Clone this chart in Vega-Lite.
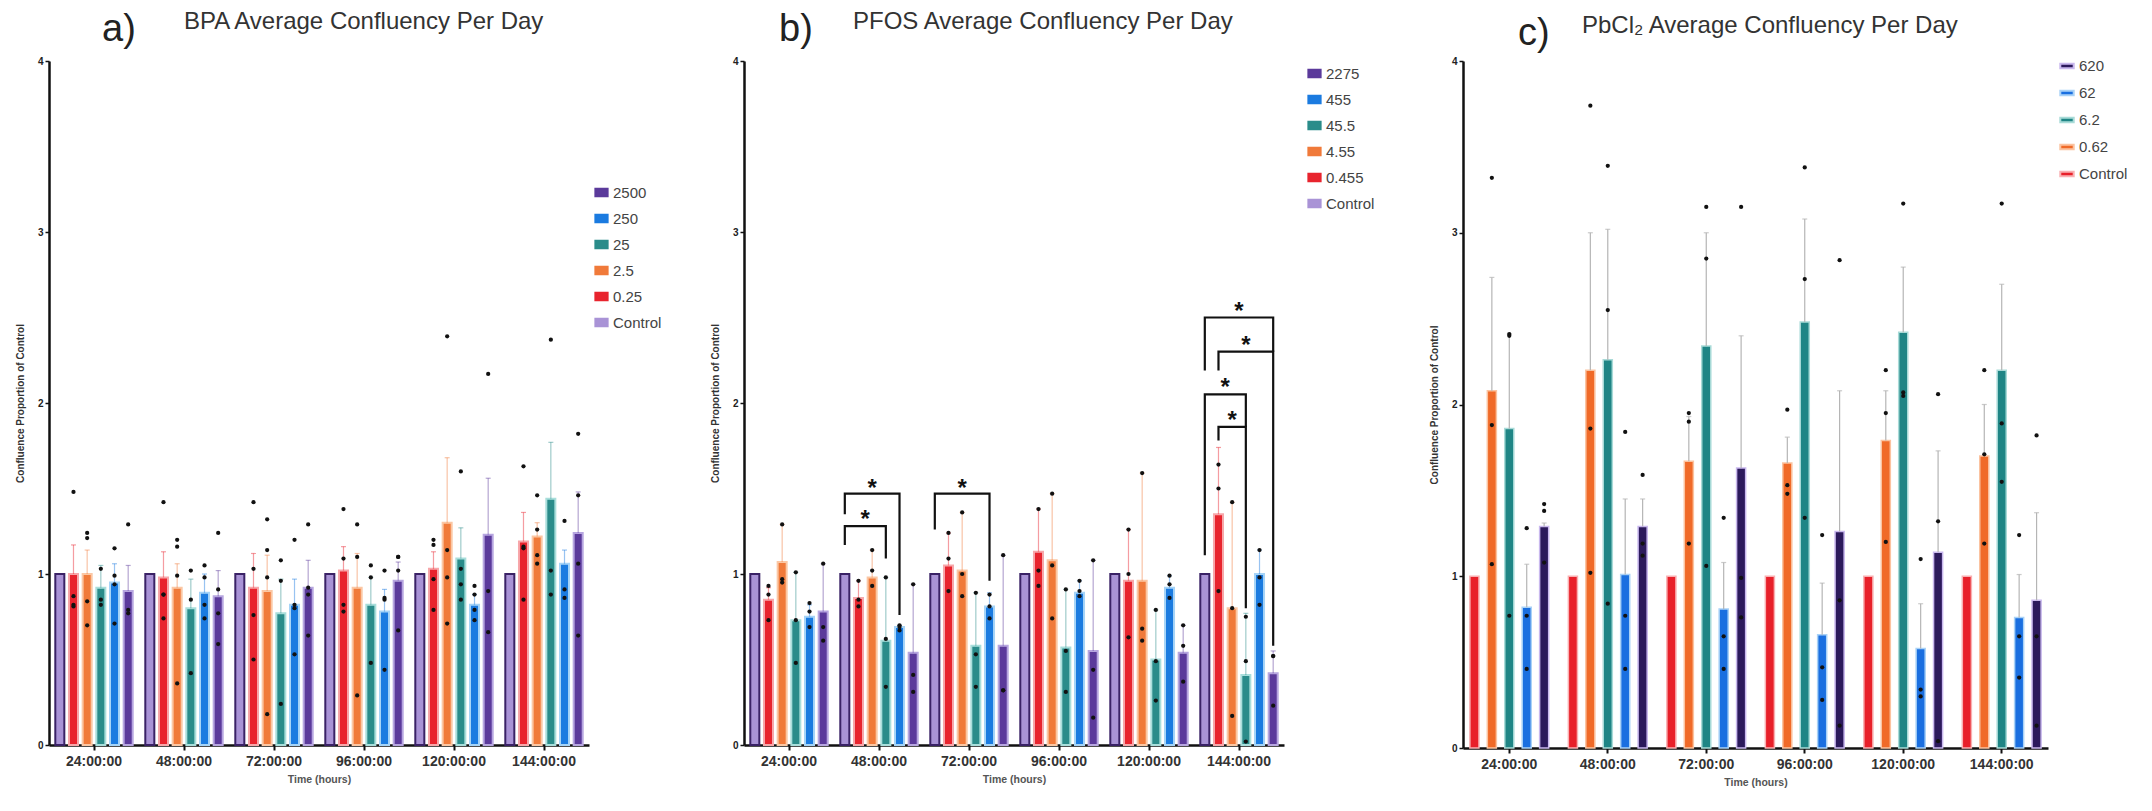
{
  "$schema": "https://vega.github.io/schema/vega-lite/v6.json",
  "padding": {"left": 15, "top": 10, "right": 4, "bottom": 4},
  "background": "white",
  "config": {
    "font": "Liberation Sans",
    "view": {"stroke": null},
    "axisX": {"labelFontSize": 14, "labelFontWeight": "bold", "labelColor": "#333", "labelAngle": 0, "tickSize": 5, "tickWidth": 2, "tickColor": "#111", "domainWidth": 2.5, "domainColor": "#111", "titleFontSize": 10.5, "titleFontWeight": "bold", "titleColor": "#555", "titlePadding": 6, "labelPadding": 4, "grid": false},
    "axisY": {"labelFontSize": 10, "labelFontWeight": "bold", "labelColor": "#222", "tickSize": 4, "tickWidth": 1.5, "tickColor": "#111", "domainWidth": 2.5, "domainColor": "#111", "titleFontSize": 10, "titleFontWeight": "bold", "titleColor": "#333", "titlePadding": 12, "grid": false},
    "legend": {"orient": "none", "title": null, "labelFontSize": 15, "labelColor": "#444", "labelFont": "Liberation Sans", "rowPadding": 9, "symbolSize": 150, "symbolStrokeWidth": 2, "symbolType": "M-1,-0.6H1V0.6H-1Z"}
  },
  "datasets": {
    "a": [
      {"t": "24:00:00", "c": "Control", "m": 1.0, "e": null, "v": []},
      {"t": "24:00:00", "c": "0.25", "m": 1.0, "e": 1.17, "v": [1.48, 0.87, 0.82, 0.81]},
      {"t": "24:00:00", "c": "2.5", "m": 1.0, "e": 1.14, "v": [1.24, 1.21, 0.84, 0.70]},
      {"t": "24:00:00", "c": "25", "m": 0.92, "e": 1.05, "v": [1.03, 0.85, 0.82]},
      {"t": "24:00:00", "c": "250", "m": 0.95, "e": 1.06, "v": [1.15, 0.99, 0.94, 0.71]},
      {"t": "24:00:00", "c": "2500", "m": 0.90, "e": 1.05, "v": [1.29, 0.79, 0.77]},
      {"t": "48:00:00", "c": "Control", "m": 1.0, "e": null, "v": []},
      {"t": "48:00:00", "c": "0.25", "m": 0.98, "e": 1.13, "v": [1.42, 0.88, 0.88, 0.74]},
      {"t": "48:00:00", "c": "2.5", "m": 0.92, "e": 1.06, "v": [1.20, 1.16, 0.99, 0.36]},
      {"t": "48:00:00", "c": "25", "m": 0.80, "e": 0.97, "v": [1.02, 0.85, 0.42]},
      {"t": "48:00:00", "c": "250", "m": 0.89, "e": 1.0, "v": [1.05, 0.98, 0.82, 0.74]},
      {"t": "48:00:00", "c": "2500", "m": 0.87, "e": 1.02, "v": [1.24, 0.91, 0.77, 0.59]},
      {"t": "72:00:00", "c": "Control", "m": 1.0, "e": null, "v": []},
      {"t": "72:00:00", "c": "0.25", "m": 0.92, "e": 1.12, "v": [1.42, 1.03, 0.76, 0.50]},
      {"t": "72:00:00", "c": "2.5", "m": 0.90, "e": 1.11, "v": [1.32, 1.14, 0.98, 0.18]},
      {"t": "72:00:00", "c": "25", "m": 0.77, "e": 0.97, "v": [1.08, 0.96, 0.24]},
      {"t": "72:00:00", "c": "250", "m": 0.82, "e": 0.97, "v": [1.20, 0.82, 0.80, 0.53]},
      {"t": "72:00:00", "c": "2500", "m": 0.92, "e": 1.08, "v": [1.29, 0.92, 0.88, 0.64]},
      {"t": "96:00:00", "c": "Control", "m": 1.0, "e": null, "v": []},
      {"t": "96:00:00", "c": "0.25", "m": 1.02, "e": 1.16, "v": [1.38, 1.09, 0.82, 0.78]},
      {"t": "96:00:00", "c": "2.5", "m": 0.92, "e": 1.12, "v": [1.29, 1.10, 0.29]},
      {"t": "96:00:00", "c": "25", "m": 0.82, "e": 0.98, "v": [1.05, 0.98, 0.48]},
      {"t": "96:00:00", "c": "250", "m": 0.78, "e": 0.91, "v": [1.02, 0.86, 0.85, 0.44]},
      {"t": "96:00:00", "c": "2500", "m": 0.96, "e": 1.07, "v": [1.10, 1.10, 1.02, 0.67]},
      {"t": "120:00:00", "c": "Control", "m": 1.0, "e": null, "v": []},
      {"t": "120:00:00", "c": "0.25", "m": 1.03, "e": 1.13, "v": [1.20, 1.17, 0.97, 0.79]},
      {"t": "120:00:00", "c": "2.5", "m": 1.30, "e": 1.68, "v": [2.39, 1.14, 0.98, 0.71]},
      {"t": "120:00:00", "c": "25", "m": 1.09, "e": 1.27, "v": [1.60, 1.03, 0.94, 0.85]},
      {"t": "120:00:00", "c": "250", "m": 0.82, "e": 0.88, "v": [0.93, 0.88, 0.79, 0.73]},
      {"t": "120:00:00", "c": "2500", "m": 1.23, "e": 1.56, "v": [2.17, 0.90, 0.66]},
      {"t": "144:00:00", "c": "Control", "m": 1.0, "e": null, "v": []},
      {"t": "144:00:00", "c": "0.25", "m": 1.19, "e": 1.36, "v": [1.63, 1.16, 1.15, 0.85]},
      {"t": "144:00:00", "c": "2.5", "m": 1.22, "e": 1.30, "v": [1.46, 1.26, 1.11, 1.06]},
      {"t": "144:00:00", "c": "25", "m": 1.44, "e": 1.77, "v": [2.37, 1.02, 0.88]},
      {"t": "144:00:00", "c": "250", "m": 1.06, "e": 1.14, "v": [1.31, 0.91, 0.86]},
      {"t": "144:00:00", "c": "2500", "m": 1.24, "e": 1.48, "v": [1.82, 1.46, 1.06, 0.64]}
    ],
    "b": [
      {"t": "24:00:00", "c": "Control", "m": 1.0, "e": null, "v": []},
      {"t": "24:00:00", "c": "0.455", "m": 0.85, "e": 0.92, "v": [0.93, 0.88, 0.73]},
      {"t": "24:00:00", "c": "4.55", "m": 1.07, "e": 1.29, "v": [1.29, 0.97, 0.95]},
      {"t": "24:00:00", "c": "45.5", "m": 0.73, "e": 1.01, "v": [1.01, 0.73, 0.48]},
      {"t": "24:00:00", "c": "455", "m": 0.75, "e": 0.82, "v": [0.83, 0.78, 0.69]},
      {"t": "24:00:00", "c": "2275", "m": 0.78, "e": 1.06, "v": [1.06, 0.69, 0.61]},
      {"t": "48:00:00", "c": "Control", "m": 1.0, "e": null, "v": []},
      {"t": "48:00:00", "c": "0.455", "m": 0.86, "e": 0.96, "v": [0.96, 0.85, 0.81]},
      {"t": "48:00:00", "c": "4.55", "m": 0.98, "e": 1.14, "v": [1.14, 1.02, 0.93]},
      {"t": "48:00:00", "c": "45.5", "m": 0.61, "e": 0.98, "v": [0.98, 0.62, 0.34]},
      {"t": "48:00:00", "c": "455", "m": 0.69, "e": 0.70, "v": [0.70, 0.69, 0.67]},
      {"t": "48:00:00", "c": "2275", "m": 0.54, "e": 0.94, "v": [0.94, 0.41, 0.31]},
      {"t": "72:00:00", "c": "Control", "m": 1.0, "e": null, "v": []},
      {"t": "72:00:00", "c": "0.455", "m": 1.05, "e": 1.24, "v": [1.24, 1.09, 0.90]},
      {"t": "72:00:00", "c": "4.55", "m": 1.02, "e": 1.36, "v": [1.36, 1.0, 0.87]},
      {"t": "72:00:00", "c": "45.5", "m": 0.58, "e": 0.89, "v": [0.89, 0.53, 0.34]},
      {"t": "72:00:00", "c": "455", "m": 0.81, "e": 0.89, "v": [0.88, 0.81, 0.74]},
      {"t": "72:00:00", "c": "2275", "m": 0.58, "e": 1.11, "v": [1.11, 0.32, 0.32]},
      {"t": "96:00:00", "c": "Control", "m": 1.0, "e": null, "v": []},
      {"t": "96:00:00", "c": "0.455", "m": 1.13, "e": 1.38, "v": [1.38, 1.02, 0.93]},
      {"t": "96:00:00", "c": "4.55", "m": 1.08, "e": 1.47, "v": [1.47, 1.05, 0.74]},
      {"t": "96:00:00", "c": "45.5", "m": 0.57, "e": 0.91, "v": [0.91, 0.55, 0.31]},
      {"t": "96:00:00", "c": "455", "m": 0.89, "e": 0.96, "v": [0.96, 0.90, 0.87]},
      {"t": "96:00:00", "c": "2275", "m": 0.55, "e": 1.08, "v": [1.08, 0.44, 0.16]},
      {"t": "120:00:00", "c": "Control", "m": 1.0, "e": null, "v": []},
      {"t": "120:00:00", "c": "0.455", "m": 0.96, "e": 1.26, "v": [1.26, 1.0, 0.63]},
      {"t": "120:00:00", "c": "4.55", "m": 0.96, "e": 1.59, "v": [1.59, 0.68, 0.61]},
      {"t": "120:00:00", "c": "45.5", "m": 0.50, "e": 0.79, "v": [0.79, 0.49, 0.26]},
      {"t": "120:00:00", "c": "455", "m": 0.92, "e": 0.99, "v": [0.99, 0.94, 0.86]},
      {"t": "120:00:00", "c": "2275", "m": 0.54, "e": 0.70, "v": [0.70, 0.58, 0.37]},
      {"t": "144:00:00", "c": "Control", "m": 1.0, "e": null, "v": []},
      {"t": "144:00:00", "c": "0.455", "m": 1.35, "e": 1.74, "v": [1.64, 1.50, 0.90]},
      {"t": "144:00:00", "c": "4.55", "m": 0.80, "e": 1.42, "v": [1.42, 0.80, 0.17]},
      {"t": "144:00:00", "c": "45.5", "m": 0.41, "e": 0.77, "v": [0.75, 0.49, 0.02]},
      {"t": "144:00:00", "c": "455", "m": 1.0, "e": 1.14, "v": [1.14, 0.98, 0.82]},
      {"t": "144:00:00", "c": "2275", "m": 0.42, "e": 0.55, "v": [0.52, 0.52, 0.23]}
    ],
    "c": [
      {"t": "24:00:00", "c": "Control", "m": 1.0, "e": null, "v": []},
      {"t": "24:00:00", "c": "0.62", "m": 2.08, "e": 2.74, "v": [3.32, 1.88, 1.07]},
      {"t": "24:00:00", "c": "6.2", "m": 1.86, "e": 2.41, "v": [2.41, 2.40, 0.77]},
      {"t": "24:00:00", "c": "62", "m": 0.82, "e": 1.07, "v": [1.28, 0.77, 0.46]},
      {"t": "24:00:00", "c": "620", "m": 1.29, "e": 1.31, "v": [1.42, 1.38, 1.08]},
      {"t": "48:00:00", "c": "Control", "m": 1.0, "e": null, "v": []},
      {"t": "48:00:00", "c": "0.62", "m": 2.20, "e": 3.0, "v": [3.74, 1.86, 1.02]},
      {"t": "48:00:00", "c": "6.2", "m": 2.26, "e": 3.02, "v": [3.39, 2.55, 0.84]},
      {"t": "48:00:00", "c": "62", "m": 1.01, "e": 1.45, "v": [1.84, 0.77, 0.46]},
      {"t": "48:00:00", "c": "620", "m": 1.29, "e": 1.45, "v": [1.59, 1.19, 1.12]},
      {"t": "72:00:00", "c": "Control", "m": 1.0, "e": null, "v": []},
      {"t": "72:00:00", "c": "0.62", "m": 1.67, "e": 1.93, "v": [1.95, 1.90, 1.19]},
      {"t": "72:00:00", "c": "6.2", "m": 2.34, "e": 3.0, "v": [3.15, 2.85, 1.06]},
      {"t": "72:00:00", "c": "62", "m": 0.81, "e": 1.08, "v": [1.34, 0.65, 0.46]},
      {"t": "72:00:00", "c": "620", "m": 1.63, "e": 2.40, "v": [3.15, 0.99, 0.76]},
      {"t": "96:00:00", "c": "Control", "m": 1.0, "e": null, "v": []},
      {"t": "96:00:00", "c": "0.62", "m": 1.66, "e": 1.81, "v": [1.97, 1.53, 1.48]},
      {"t": "96:00:00", "c": "6.2", "m": 2.48, "e": 3.08, "v": [3.38, 2.73, 1.34]},
      {"t": "96:00:00", "c": "62", "m": 0.66, "e": 0.96, "v": [1.24, 0.47, 0.28]},
      {"t": "96:00:00", "c": "620", "m": 1.26, "e": 2.08, "v": [2.84, 0.86, 0.13]},
      {"t": "120:00:00", "c": "Control", "m": 1.0, "e": null, "v": []},
      {"t": "120:00:00", "c": "0.62", "m": 1.79, "e": 2.08, "v": [2.20, 1.95, 1.20]},
      {"t": "120:00:00", "c": "6.2", "m": 2.42, "e": 2.80, "v": [3.17, 2.07, 2.05]},
      {"t": "120:00:00", "c": "62", "m": 0.58, "e": 0.84, "v": [1.10, 0.34, 0.30]},
      {"t": "120:00:00", "c": "620", "m": 1.14, "e": 1.73, "v": [2.06, 1.32, 0.04]},
      {"t": "144:00:00", "c": "Control", "m": 1.0, "e": null, "v": []},
      {"t": "144:00:00", "c": "0.62", "m": 1.70, "e": 2.0, "v": [2.20, 1.71, 1.19]},
      {"t": "144:00:00", "c": "6.2", "m": 2.20, "e": 2.70, "v": [3.17, 1.89, 1.55]},
      {"t": "144:00:00", "c": "62", "m": 0.76, "e": 1.01, "v": [1.24, 0.65, 0.41]},
      {"t": "144:00:00", "c": "620", "m": 0.86, "e": 1.37, "v": [1.82, 0.65, 0.13]}
    ],
    "sig": [
      {"id": 1, "t": "48:00:00", "o": 1, "c": "Control", "v": 1.17},
      {"id": 1, "t": "48:00:00", "o": 2, "c": "Control", "v": 1.28},
      {"id": 1, "t": "48:00:00", "o": 3, "c": "45.5", "v": 1.28},
      {"id": 1, "t": "48:00:00", "o": 4, "c": "45.5", "v": 1.09},
      {"id": 2, "t": "48:00:00", "o": 1, "c": "Control", "v": 1.35},
      {"id": 2, "t": "48:00:00", "o": 2, "c": "Control", "v": 1.47},
      {"id": 2, "t": "48:00:00", "o": 3, "c": "455", "v": 1.47},
      {"id": 2, "t": "48:00:00", "o": 4, "c": "455", "v": 0.76},
      {"id": 3, "t": "72:00:00", "o": 1, "c": "Control", "v": 1.26},
      {"id": 3, "t": "72:00:00", "o": 2, "c": "Control", "v": 1.47},
      {"id": 3, "t": "72:00:00", "o": 3, "c": "455", "v": 1.47},
      {"id": 3, "t": "72:00:00", "o": 4, "c": "455", "v": 0.96},
      {"id": 4, "t": "144:00:00", "o": 1, "c": "Control", "v": 2.19},
      {"id": 4, "t": "144:00:00", "o": 2, "c": "Control", "v": 2.50},
      {"id": 4, "t": "144:00:00", "o": 3, "c": "2275", "v": 2.50},
      {"id": 4, "t": "144:00:00", "o": 4, "c": "2275", "v": 2.30},
      {"id": 5, "t": "144:00:00", "o": 1, "c": "0.455", "v": 2.19},
      {"id": 5, "t": "144:00:00", "o": 2, "c": "0.455", "v": 2.30},
      {"id": 5, "t": "144:00:00", "o": 3, "c": "2275", "v": 2.30},
      {"id": 5, "t": "144:00:00", "o": 4, "c": "2275", "v": 0.58},
      {"id": 6, "t": "144:00:00", "o": 1, "c": "Control", "v": 1.11},
      {"id": 6, "t": "144:00:00", "o": 2, "c": "Control", "v": 2.05},
      {"id": 6, "t": "144:00:00", "o": 3, "c": "45.5", "v": 2.05},
      {"id": 6, "t": "144:00:00", "o": 4, "c": "45.5", "v": 1.86},
      {"id": 7, "t": "144:00:00", "o": 1, "c": "0.455", "v": 1.78},
      {"id": 7, "t": "144:00:00", "o": 2, "c": "0.455", "v": 1.86},
      {"id": 7, "t": "144:00:00", "o": 3, "c": "45.5", "v": 1.86},
      {"id": 7, "t": "144:00:00", "o": 4, "c": "45.5", "v": 0.80}
    ],
    "stars": [
      {"t": "48:00:00", "c": "4.55", "v": 1.35, "h": 1},
      {"t": "48:00:00", "c": "4.55", "v": 1.53, "h": 0},
      {"t": "72:00:00", "c": "4.55", "v": 1.53, "h": 0},
      {"t": "144:00:00", "c": "45.5", "v": 2.57, "h": 1},
      {"t": "144:00:00", "c": "45.5", "v": 2.37, "h": 0},
      {"t": "144:00:00", "c": "4.55", "v": 2.12, "h": 1},
      {"t": "144:00:00", "c": "4.55", "v": 1.93, "h": 0}
    ]
  },
  "resolve": {"scale": {"x": "independent", "y": "independent", "xOffset": "independent", "color": "independent", "stroke": "independent"}, "axis": {"x": "independent", "y": "independent"}, "legend": {"color": "independent", "stroke": "independent"}},
  "spacing": 48,
  "hconcat": [
    {
      "title": {"text": "a)", "anchor": "start", "frame": "group", "fontSize": 38, "fontWeight": "normal", "color": "#222", "dx": 53, "dy": 43},
      "vconcat": [
        {
          "width": 540, "height": 684,
          "title": {"text": "BPA Average Confluency Per Day", "anchor": "start", "frame": "group", "dx": 135, "fontSize": 24, "fontWeight": "normal", "color": "#333", "offset": 22},
          "data": {"name": "a"},
          "encoding": {
            "x": {"field": "t", "type": "nominal", "sort": null, "scale": {"paddingInner": 0.14, "paddingOuter": 0.07}, "title": "Time (hours)"},
            "xOffset": {"field": "c", "type": "nominal", "scale": {"domain": ["Control", "0.25", "2.5", "25", "250", "2500"], "paddingInner": 0.34}}
          },
          "layer": [
            {
              "mark": {"type": "bar", "strokeWidth": 2},
              "encoding": {
                "y": {"field": "m", "type": "quantitative", "scale": {"domain": [0, 4]}, "title": "Confluence Proportion of Control", "axis": {"values": [0, 1, 2, 3, 4], "format": "d"}},
                "color": {"field": "c", "type": "nominal", "scale": {"domain": ["2500", "250", "25", "2.5", "0.25", "Control"], "range": ["#5b3a9b", "#1b7be0", "#2a8c8a", "#f07a3a", "#e8242e", "#a993d6"]}, "legend": {"legendX": 545, "legendY": 124}},
                "stroke": {"field": "c", "type": "nominal", "scale": {"domain": ["2500", "250", "25", "2.5", "0.25", "Control"], "range": ["#b7a6e0", "#a6d4f7", "#a9dedb", "#fbc7a4", "#f7a7aa", "#3a2266"]}, "legend": {"legendX": 545, "legendY": 124}}
              }
            },
            {
              "transform": [{"filter": "isValid(datum.e)"}],
              "mark": {"type": "rule", "strokeWidth": 1.2, "opacity": 0.45},
              "encoding": {
                "y": {"field": "m", "type": "quantitative", "title": "Confluence Proportion of Control"},
                "y2": {"field": "e"},
                "color": {"field": "c", "type": "nominal", "legend": null}
              }
            },
            {
              "transform": [{"filter": "isValid(datum.e)"}],
              "mark": {"type": "tick", "orient": "horizontal", "size": 5, "thickness": 1.2, "opacity": 0.45},
              "encoding": {
                "y": {"field": "e", "type": "quantitative", "title": "Confluence Proportion of Control"},
                "color": {"field": "c", "type": "nominal", "legend": null}
              }
            },
            {
              "transform": [{"flatten": ["v"]}],
              "mark": {"type": "circle", "size": 18, "color": "#111", "opacity": 1},
              "encoding": {
                "y": {"field": "v", "type": "quantitative", "title": "Confluence Proportion of Control"}
              }
            }
          ]
        }
      ]
    },
    {
      "spacing": 54,
      "resolve": {"scale": {"x": "independent", "y": "independent", "xOffset": "independent", "color": "independent", "stroke": "independent"}, "axis": {"x": "independent", "y": "independent"}, "legend": {"color": "independent", "stroke": "independent"}},
      "hconcat": [
        {
          "title": {"text": "b)", "anchor": "start", "frame": "group", "fontSize": 38, "fontWeight": "normal", "color": "#222", "dx": 35, "dy": 43},
          "vconcat": [
            {
              "width": 540, "height": 684,
              "title": {"text": "PFOS Average Confluency Per Day", "anchor": "start", "frame": "group", "dx": 109, "fontSize": 24, "fontWeight": "normal", "color": "#333", "offset": 22},
              "encoding": {
                "x": {"field": "t", "type": "nominal", "sort": ["24:00:00", "48:00:00", "72:00:00", "96:00:00", "120:00:00", "144:00:00"], "scale": {"paddingInner": 0.14, "paddingOuter": 0.07}, "title": "Time (hours)"},
                "xOffset": {"field": "c", "type": "nominal", "scale": {"domain": ["Control", "0.455", "4.55", "45.5", "455", "2275"], "paddingInner": 0.34}}
              },
              "layer": [
                {
                  "data": {"name": "b"},
                  "mark": {"type": "bar", "strokeWidth": 2},
                  "encoding": {
                    "y": {"field": "m", "type": "quantitative", "scale": {"domain": [0, 4]}, "title": "Confluence Proportion of Control", "axis": {"values": [0, 1, 2, 3, 4], "format": "d"}},
                    "color": {"field": "c", "type": "nominal", "scale": {"domain": ["2275", "455", "45.5", "4.55", "0.455", "Control"], "range": ["#5b3a9b", "#1b7be0", "#2a8c8a", "#f07a3a", "#e8242e", "#a993d6"]}, "legend": {"legendX": 563, "legendY": 5}},
                    "stroke": {"field": "c", "type": "nominal", "scale": {"domain": ["2275", "455", "45.5", "4.55", "0.455", "Control"], "range": ["#b7a6e0", "#a6d4f7", "#a9dedb", "#fbc7a4", "#f7a7aa", "#3a2266"]}, "legend": {"legendX": 563, "legendY": 5}}
                  }
                },
                {
                  "data": {"name": "b"},
                  "transform": [{"filter": "isValid(datum.e)"}],
                  "mark": {"type": "rule", "strokeWidth": 1.2, "opacity": 0.45},
                  "encoding": {
                    "y": {"field": "m", "type": "quantitative", "title": "Confluence Proportion of Control"},
                    "y2": {"field": "e"},
                    "color": {"field": "c", "type": "nominal", "legend": null}
                  }
                },
                {
                  "data": {"name": "b"},
                  "transform": [{"filter": "isValid(datum.e)"}],
                  "mark": {"type": "tick", "orient": "horizontal", "size": 5, "thickness": 1.2, "opacity": 0.45},
                  "encoding": {
                    "y": {"field": "e", "type": "quantitative", "title": "Confluence Proportion of Control"},
                    "color": {"field": "c", "type": "nominal", "legend": null}
                  }
                },
                {
                  "data": {"name": "b"},
                  "transform": [{"flatten": ["v"]}],
                  "mark": {"type": "circle", "size": 18, "color": "#111", "opacity": 1},
                  "encoding": {
                    "y": {"field": "v", "type": "quantitative", "title": "Confluence Proportion of Control"}
                  }
                },
                {
                  "data": {"name": "sig"},
                  "mark": {"type": "line", "color": "#111", "strokeWidth": 2.2, "interpolate": "linear"},
                  "encoding": {
                    "y": {"field": "v", "type": "quantitative", "title": "Confluence Proportion of Control"},
                    "detail": {"field": "id", "type": "nominal"},
                    "order": {"field": "o", "type": "quantitative"}
                  }
                },
                {
                  "data": {"name": "stars"},
                  "transform": [{"filter": "datum.h == 0"}],
                  "mark": {"type": "text", "text": "*", "fontSize": 24, "fontWeight": "bold", "color": "#111", "baseline": "middle", "dy": 6},
                  "encoding": {
                    "y": {"field": "v", "type": "quantitative", "title": "Confluence Proportion of Control"}
                  }
                },
                {
                  "data": {"name": "stars"},
                  "transform": [{"filter": "datum.h == 1"}],
                  "mark": {"type": "text", "text": "*", "fontSize": 24, "fontWeight": "bold", "color": "#111", "baseline": "middle", "dy": 6, "dx": -7},
                  "encoding": {
                    "y": {"field": "v", "type": "quantitative", "title": "Confluence Proportion of Control"}
                  }
                }
              ]
            }
          ]
        },
        {
          "title": {"text": "c)", "anchor": "start", "frame": "group", "fontSize": 38, "fontWeight": "normal", "color": "#222", "dx": 55, "dy": 43},
          "vconcat": [
            {
              "width": 585, "height": 687,
              "title": {"text": "PbCl₂ Average Confluency Per Day", "anchor": "start", "frame": "group", "dx": 119, "fontSize": 24, "fontWeight": "normal", "color": "#333", "offset": 18},
              "data": {"name": "c"},
              "encoding": {
                "x": {"field": "t", "type": "nominal", "sort": null, "scale": {"paddingInner": 0.2, "paddingOuter": 0.07}, "title": "Time (hours)"},
                "xOffset": {"field": "c", "type": "nominal", "scale": {"domain": ["Control", "0.62", "6.2", "62", "620"], "paddingInner": 0.48}}
              },
              "layer": [
                {
                  "mark": {"type": "bar", "strokeWidth": 1.5},
                  "encoding": {
                    "y": {"field": "m", "type": "quantitative", "scale": {"domain": [0, 4]}, "title": "Confluence Proportion of Control", "axis": {"values": [0, 1, 2, 3, 4], "format": "d"}},
                    "color": {"field": "c", "type": "nominal", "scale": {"domain": ["620", "62", "6.2", "0.62", "Control"], "range": ["#2c1a5c", "#1a6fe0", "#1f8585", "#f06a28", "#e8202a"]}, "legend": {"legendX": 596, "legendY": -3, "rowPadding": 11, "symbolType": "M-1,-0.35H1V0.35H-1Z", "symbolSize": 180}},
                    "stroke": {"field": "c", "type": "nominal", "scale": {"domain": ["620", "62", "6.2", "0.62", "Control"], "range": ["#c9b8ee", "#a9d2f7", "#a9dbd8", "#fbc3a0", "#f9b0b2"]}, "legend": {"legendX": 596, "legendY": -3, "rowPadding": 11, "symbolType": "M-1,-0.35H1V0.35H-1Z", "symbolSize": 180}}
                  }
                },
                {
                  "transform": [{"filter": "isValid(datum.e)"}],
                  "mark": {"type": "rule", "strokeWidth": 1.2, "color": "#b5b5b5"},
                  "encoding": {
                    "y": {"field": "m", "type": "quantitative", "title": "Confluence Proportion of Control"},
                    "y2": {"field": "e"}
                  }
                },
                {
                  "transform": [{"filter": "isValid(datum.e)"}],
                  "mark": {"type": "tick", "orient": "horizontal", "size": 5, "thickness": 1.2, "color": "#b5b5b5"},
                  "encoding": {
                    "y": {"field": "e", "type": "quantitative", "title": "Confluence Proportion of Control"}
                  }
                },
                {
                  "transform": [{"flatten": ["v"]}],
                  "mark": {"type": "circle", "size": 18, "color": "#111", "opacity": 1},
                  "encoding": {
                    "y": {"field": "v", "type": "quantitative", "title": "Confluence Proportion of Control"}
                  }
                }
              ]
            }
          ]
        }
      ]
    }
  ]
}
